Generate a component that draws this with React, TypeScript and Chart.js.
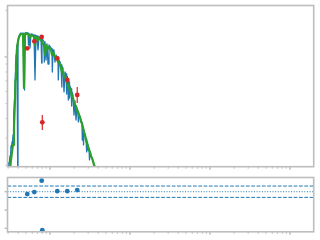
import { useEffect, useRef } from "react";
import { Chart, registerables } from "chart.js";

Chart.register(...registerables);

const BLUE = "#1f77b4";
const GREEN = "#2ca02c";
const RED = "#d62728";
const FRAME = "#bdbdbd";

// axis ranges (wavelength in micron, flux in arbitrary units)
const X_MIN = 0.2943;
const X_MAX = 1977;
const FLUX_MIN = 0.196;
const FLUX_MAX = 2.149;
const RES_MIN = -2.19;
const RES_MAX = 0.776;

// high-resolution model spectrum (blue)
const modelWave = [0.2985,0.3029,0.3072,0.3162,0.3209,0.3255,0.3303,0.3350,0.3399,0.3448,
  0.3499,0.3548,0.3600,0.3652,0.3705,0.3758,0.3813,0.3868,0.3947,0.3981,
  0.4097,0.4217,0.4340,0.4467,0.4597,0.4732,0.4801,0.4870,0.5012,0.5158,
  0.5309,0.5386,0.5464,0.5623,0.5788,0.5957,0.6131,0.6310,0.6494,0.6683,
  0.6879,0.7079,0.7286,0.7499,0.7718,0.7875,0.7943,0.8175,0.8414,0.8487,
  0.8660,0.8913,0.9173,0.9441,0.9716,1.0,1.0292,1.0593,1.0684,1.0902,
  1.1220,1.1548,1.1885,1.2232,1.2589,1.2699,1.2957,1.3335,1.3725,1.4004,
  1.4125,1.4538,1.4962,1.5399,1.5849,1.6171,1.6312,1.6788,1.6934,1.7278,
  1.7529,1.7783,1.8302,1.8673,1.8836,1.9387,1.9953,2.0535,2.1135,2.1752,
  2.2387,2.2581,2.3041,2.3714,2.4406,2.5119,2.5337,2.5852,2.6227,2.6607,
  2.7384,2.8184,2.8757,2.9007,2.9427,2.9854,3.0726,3.1171,3.1623,3.2546,
  3.3497,3.4475,3.5481,3.6517,3.7584];
const modelFlux = [0.187,0.207,0.198,0.230,0.223,0.267,0.259,0.283,0.275,0.314,
  0.348,0.422,0.528,0.660,0.800,0.956,1.110,1.195,0.181,1.287,
  1.366,1.407,1.428,1.418,1.428,1.407,0.612,1.428,1.439,1.428,
  1.428,1.195,1.418,1.143,1.407,1.407,1.387,1.387,0.711,1.376,
  1.366,1.110,1.346,1.336,1.326,0.915,1.306,1.287,1.259,0.928,
  1.250,0.956,1.213,0.901,1.195,1.169,1.143,1.126,0.800,1.110,
  1.061,0.928,1.030,1.0,0.971,0.711,0.956,0.928,0.888,0.640,
  0.875,0.849,0.595,0.800,0.777,0.577,0.743,0.711,0.528,0.690,
  0.544,0.650,0.622,0.483,0.595,0.569,0.422,0.520,0.392,0.469,
  0.448,0.381,0.429,0.410,0.392,0.375,0.291,0.353,0.271,0.333,
  0.314,0.296,0.244,0.283,0.251,0.271,0.255,0.217,0.244,0.233,
  0.223,0.213,0.204,0.195,0.187];

// lower-resolution model (green)
const smoothWave = [0.3162,0.3255,0.3350,0.3448,0.3548,0.3652,0.3705,0.3758,0.3813,0.3868,
  0.3981,0.4097,0.4217,0.4340,0.4467,0.4597,0.4732,0.4870,0.5012,0.5158,
  0.5309,0.5464,0.5623,0.5788,0.5957,0.6131,0.6310,0.6494,0.6683,0.6879,
  0.7079,0.7286,0.7499,0.7718,0.7943,0.8175,0.8414,0.8660,0.8913,0.9173,
  0.9441,0.9716,1.0,1.0292,1.0593,1.0902,1.1220,1.1548,1.1885,1.2232,
  1.2589,1.2957,1.3335,1.3725,1.4125,1.4538,1.4962,1.5399,1.5849,1.6312,
  1.6788,1.7278,1.7783,1.8302,1.8836,1.9387,1.9953,2.0535,2.1135,2.1752,
  2.2387,2.3041,2.3714,2.4406,2.5119,2.5852,2.6607,2.7384,2.8184,2.9007,
  2.9854,3.0726,3.1623,3.2546,3.3497,3.4475,3.5481,3.6517,3.7584];
const smoothFlux = [0.187,0.217,0.244,0.271,0.348,0.528,0.711,0.888,1.030,1.143,
  1.259,1.346,1.387,1.407,1.407,1.407,0.631,1.407,1.418,1.407,
  1.407,1.387,1.326,1.387,1.387,1.366,1.346,1.195,1.346,1.336,
  1.287,1.326,1.306,1.287,1.250,1.213,1.195,1.030,1.195,1.110,
  1.160,1.143,1.126,1.110,1.030,1.061,1.030,1.0,1.0,0.971,
  0.928,0.915,0.888,0.849,0.800,0.800,0.748,0.748,0.711,0.690,
  0.650,0.640,0.612,0.595,0.556,0.544,0.512,0.490,0.483,0.445,
  0.445,0.422,0.410,0.381,0.375,0.348,0.328,0.314,0.291,0.279,
  0.265,0.251,0.244,0.228,0.223,0.213,0.201,0.195,0.187];

// photometry (red points with error bars)
const photWave = [0.52, 0.637, 0.787, 0.801, 1.234, 1.645, 2.19];
const photFlux = [1.138, 1.263, 1.346, 0.379, 0.981, 0.711, 0.569];
const photErrLo = [1.125, 1.25, 1.333, 0.338, 0.968, 0.670, 0.505];
const photErrHi = [1.151, 1.276, 1.359, 0.422, 0.994, 0.754, 0.640];

// residuals (bottom panel)
const residuals = [-0.13, -0.02, 0.60, -2.10, 0.03, 0.03, 0.09];
const residualBand = 0.31;

// tick positions
const xMajorTicks = [1, 10, 100, 1000];
const fluxMajorTicks = [1];
const resTicks = [0, -1, -2];

function minorLogTicks(min: number, max: number): number[] {
  const out: number[] = [];
  for (let e = -2; e <= 4; e++) {
    for (let k = 2; k <= 9; k++) {
      const v = k * Math.pow(10, e);
      if (v >= min && v <= max) out.push(v);
    }
  }
  return out;
}

function axesPlugin(xMajor: number[], xMinor: number[], yMajor: number[], yMinor: number[]) {
  return {
    id: "mplAxes",
    afterDraw(chart: any) {
      const { ctx, chartArea: a } = chart;
      const xs = chart.scales.x;
      const ys = chart.scales.y;
      ctx.save();
      ctx.strokeStyle = FRAME;
      const tick = (x1: number, y1: number, x2: number, y2: number, w: number) => {
        ctx.lineWidth = w;
        ctx.beginPath();
        ctx.moveTo(x1, y1);
        ctx.lineTo(x2, y2);
        ctx.stroke();
      };
      xMinor.forEach((v) => {
        const x = xs.getPixelForValue(v);
        tick(x, a.bottom, x, a.bottom + 2, 1);
      });
      xMajor.forEach((v) => {
        const x = xs.getPixelForValue(v);
        tick(x, a.bottom, x, a.bottom + 3, 1.4);
      });
      yMinor.forEach((v) => {
        const y = ys.getPixelForValue(v);
        tick(a.left, y, a.left - 2, y, 1);
      });
      yMajor.forEach((v) => {
        const y = ys.getPixelForValue(v);
        tick(a.left, y, a.left - 3, y, 1.4);
      });
      ctx.lineWidth = 1.6;
      ctx.strokeRect(a.left, a.top, a.right - a.left, a.bottom - a.top);
      ctx.restore();
    },
  };
}

const errorBarPlugin = {
  id: "errorBars",
  afterDatasetsDraw(chart: any) {
    const { ctx } = chart;
    const xs = chart.scales.x;
    const ys = chart.scales.y;
    ctx.save();
    ctx.strokeStyle = RED;
    ctx.lineWidth = 1.2;
    photWave.forEach((w, i) => {
      const x = xs.getPixelForValue(w);
      ctx.beginPath();
      ctx.moveTo(x, ys.getPixelForValue(photErrLo[i]));
      ctx.lineTo(x, ys.getPixelForValue(photErrHi[i]));
      ctx.stroke();
    });
    ctx.restore();
  },
};

const toXY = (xs: number[], ys: number[]) => xs.map((x, i) => ({ x, y: ys[i] }));

export default function App() {
  const topRef = useRef<HTMLCanvasElement>(null);
  const botRef = useRef<HTMLCanvasElement>(null);

  useEffect(() => {
    const xMinor = minorLogTicks(X_MIN, X_MAX);
    const fluxMinor = minorLogTicks(FLUX_MIN, FLUX_MAX);

    const top = new Chart(topRef.current as HTMLCanvasElement, {
      type: "line",
      data: {
        datasets: [
          {
            type: "scatter",
            data: toXY(photWave, photFlux),
            backgroundColor: RED,
            borderColor: RED,
            pointRadius: 2.4,
            borderWidth: 0,
            order: 0,
          } as any,
          {
            data: toXY(smoothWave, smoothFlux),
            borderColor: GREEN,
            borderWidth: 2.2,
            pointRadius: 0,
            tension: 0,
            borderJoinStyle: "round",
            order: 1,
          },
          {
            data: toXY(modelWave, modelFlux),
            borderColor: BLUE,
            borderWidth: 1.3,
            pointRadius: 0,
            tension: 0,
            borderJoinStyle: "round",
            order: 2,
          },
        ],
      },
      options: {
        responsive: false,
        animation: false,
        events: [],
        layout: { padding: { left: 7.5, right: 6.3, top: 5.5, bottom: 5.3 } },
        scales: {
          x: { type: "logarithmic", min: X_MIN, max: X_MAX, display: false },
          y: { type: "logarithmic", min: FLUX_MIN, max: FLUX_MAX, display: false },
        },
        plugins: { legend: { display: false }, tooltip: { enabled: false } },
      },
      plugins: [axesPlugin(xMajorTicks, xMinor, fluxMajorTicks, fluxMinor), errorBarPlugin],
    });

    const bottom = new Chart(botRef.current as HTMLCanvasElement, {
      type: "line",
      data: {
        datasets: [
          {
            type: "scatter",
            data: toXY(photWave, residuals),
            backgroundColor: BLUE,
            borderColor: BLUE,
            pointRadius: 2.4,
            borderWidth: 0,
            clip: false,
            order: 0,
          } as any,
          {
            data: [{ x: X_MIN, y: residualBand }, { x: X_MAX, y: residualBand }],
            borderColor: BLUE,
            borderWidth: 1,
            borderDash: [3.7, 1.6],
            pointRadius: 0,
            order: 1,
          },
          {
            data: [{ x: X_MIN, y: -residualBand }, { x: X_MAX, y: -residualBand }],
            borderColor: BLUE,
            borderWidth: 1,
            borderDash: [3.7, 1.6],
            pointRadius: 0,
            order: 1,
          },
          {
            data: [{ x: X_MIN, y: 0 }, { x: X_MAX, y: 0 }],
            borderColor: BLUE,
            borderWidth: 1,
            borderDash: [1, 1.65],
            pointRadius: 0,
            order: 1,
          },
        ],
      },
      options: {
        responsive: false,
        animation: false,
        events: [],
        layout: { padding: { left: 7.5, right: 6.3, top: 5.5, bottom: 8.2 } },
        scales: {
          x: { type: "logarithmic", min: X_MIN, max: X_MAX, display: false },
          y: { type: "linear", min: RES_MIN, max: RES_MAX, display: false },
        },
        plugins: { legend: { display: false }, tooltip: { enabled: false } },
      },
      plugins: [axesPlugin(xMajorTicks, xMinor, resTicks, [])],
    });

    return () => {
      top.destroy();
      bottom.destroy();
    };
  }, []);

  return (
    <div style={{ position: "fixed", left: 0, top: 0, width: 320, height: 240, background: "#fff" }}>
      <canvas ref={topRef} width={320} height={172} style={{ position: "absolute", left: 0, top: 0, display: "block" }} />
      <canvas ref={botRef} width={320} height={68} style={{ position: "absolute", left: 0, top: 172, display: "block" }} />
    </div>
  );
}
